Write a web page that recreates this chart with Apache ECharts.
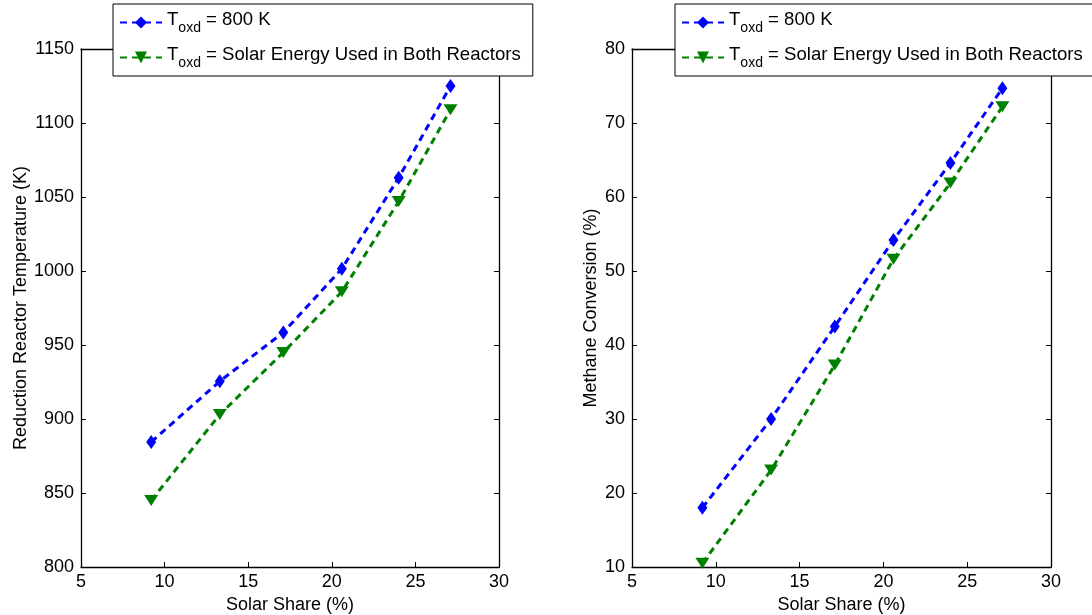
<!DOCTYPE html>
<html>
<head>
<meta charset="utf-8">
<script src="https://cdn.jsdelivr.net/npm/echarts@6/dist/echarts.min.js"></script>
<style>
  html, body { margin: 0; padding: 0; background: #fff; }
  #chart { width: 1092px; height: 615px; }
</style>
</head>
<body>
<div id="chart"></div>
<script>
// Solar share (%) on the horizontal axis of both panels
const solarShare = [9.2, 13.3, 17.1, 20.6, 24.0, 27.1];
// Reduction reactor temperature (K)
const tempOxd800 = [884.5, 925.5, 958.5, 1001.5, 1063, 1125];
const tempSolarBoth = [845, 903, 945, 986, 1047, 1109];
// Methane conversion (%)
const convOxd800 = [18.0, 30.0, 42.5, 54.2, 64.6, 74.7];
const convSolarBoth = [10.5, 23.1, 37.3, 51.6, 61.9, 72.2];
// Axis ticks
const xTicks = [5, 10, 15, 20, 25, 30];
const tempTicks = [800, 850, 900, 950, 1000, 1050, 1100, 1150];
const convTicks = [10, 20, 30, 40, 50, 60, 70, 80];
const seriesNames = ['T_oxd = 800 K', 'T_oxd = Solar Energy Used in Both Reactors'];

const FONT = '"Liberation Sans", Arial, Helvetica, sans-serif';
const BLUE = '#0000ff';
const GREEN = '#008000';

const pairs = (xs, ys) => xs.map((x, i) => [x, ys[i]]);

function legendFor(left) {
  return {
    left: left, top: 4,
    orient: 'vertical',
    backgroundColor: '#fff',
    borderColor: '#000',
    borderWidth: 1,
    borderRadius: 0,
    padding: [6, 12, 6, 6],
    itemGap: 10,
    itemWidth: 42,
    itemHeight: 15,
    data: seriesNames,
    formatter: function (name) {
      const rest = name.replace('T_oxd', '');
      return '{m|T}{s|oxd}{m|' + rest + '}';
    },
    textStyle: {
      fontFamily: FONT, color: '#000',
      rich: {
        m: { fontFamily: FONT, fontSize: 18.6, color: '#000', verticalAlign: 'bottom', padding: [0, 0, 6, 0] },
        s: { fontFamily: FONT, fontSize: 14, color: '#000', verticalAlign: 'bottom' }
      }
    }
  };
}

function xAxisPair(grid) {
  const common = {
    type: 'value', gridIndex: grid, min: xTicks[0], max: xTicks[xTicks.length - 1], interval: 5,
    splitLine: { show: false },
    axisLine: { show: true, onZero: false, lineStyle: { color: '#000', width: 1.3 } },
    axisTick: { show: true, inside: true, length: 5, lineStyle: { color: '#000' } }
  };
  return [
    Object.assign({}, common, {
      position: 'bottom',
      name: 'Solar Share (%)', nameLocation: 'middle', nameGap: 28,
      nameTextStyle: { fontFamily: FONT, fontSize: 18, color: '#000' },
      axisLabel: { show: true, fontFamily: FONT, fontSize: 18, color: '#000', margin: 6 }
    }),
    Object.assign({}, common, { position: 'top', axisLabel: { show: false } })
  ];
}

function yAxisPair(grid, ticks, step, title, gap) {
  const common = {
    type: 'value', gridIndex: grid, min: ticks[0], max: ticks[ticks.length - 1], interval: step,
    splitLine: { show: false },
    axisLine: { show: true, onZero: false, lineStyle: { color: '#000', width: 1.3 } },
    axisTick: { show: true, inside: true, length: 5, lineStyle: { color: '#000' } }
  };
  return [
    Object.assign({}, common, {
      position: 'left',
      name: title, nameLocation: 'middle', nameGap: gap, nameRotate: 90,
      nameTextStyle: { fontFamily: FONT, fontSize: 18, color: '#000' },
      axisLabel: {
        show: true, fontFamily: FONT, fontSize: 18, color: '#000', margin: 7,
        formatter: v => String(v)
      }
    }),
    Object.assign({}, common, { position: 'right', axisLabel: { show: false } })
  ];
}

function lineSeries(name, data, xi, yi, color, diamond) {
  return {
    name: name, type: 'line', xAxisIndex: xi, yAxisIndex: yi,
    data: data,
    symbol: diamond ? 'diamond' : 'triangle',
    symbolSize: diamond ? [10, 14] : [14, 11],
    symbolRotate: diamond ? 0 : 180,
    showAllSymbol: true,
    lineStyle: { color: color, width: 3, type: [7, 5] },
    itemStyle: { color: color },
    emphasis: { disabled: true },
    animation: false,
    z: diamond ? 3 : 2
  };
}

const chart = echarts.init(document.getElementById('chart'), null, { renderer: 'canvas' });
chart.setOption({
  backgroundColor: '#fff',
  animation: false,
  grid: [
    { left: 81, top: 49, width: 418, height: 518, outerBoundsMode: 'none', containLabel: false },
    { left: 632, top: 49, width: 419, height: 518, outerBoundsMode: 'none', containLabel: false }
  ],
  legend: [legendFor(113), legendFor(675)],
  xAxis: [...xAxisPair(0), ...xAxisPair(1)],
  yAxis: [
    ...yAxisPair(0, tempTicks, 50, 'Reduction Reactor Temperature (K)', 50),
    ...yAxisPair(1, convTicks, 10, 'Methane Conversion (%)', 32)
  ],
  series: [
    lineSeries(seriesNames[0], pairs(solarShare, tempOxd800), 0, 0, BLUE, true),
    lineSeries(seriesNames[1], pairs(solarShare, tempSolarBoth), 0, 0, GREEN, false),
    lineSeries(seriesNames[0], pairs(solarShare, convOxd800), 2, 2, BLUE, true),
    lineSeries(seriesNames[1], pairs(solarShare, convSolarBoth), 2, 2, GREEN, false)
  ]
});
</script>
</body>
</html>
